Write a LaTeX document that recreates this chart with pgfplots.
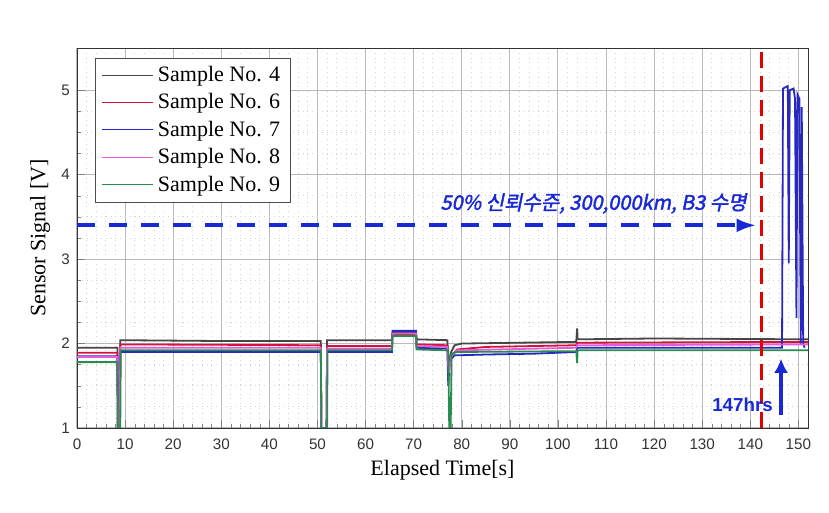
\documentclass[border=0pt]{standalone}
\usepackage{fontspec}
\setmainfont{Liberation Serif}
\setsansfont{Liberation Sans}
\newfontfamily\kr[FakeSlant=0.2,FakeBold=2]{Noto Sans CJK KR}
\usepackage{pgfplots}
\pgfplotsset{compat=1.18}
\usetikzlibrary{arrows.meta}
\definecolor{sfour}{RGB}{70,70,70}
\definecolor{ssix}{RGB}{210,20,60}
\definecolor{sseven}{RGB}{40,40,190}
\definecolor{seight}{RGB}{230,90,220}
\definecolor{snine}{RGB}{40,140,80}
\definecolor{annblue}{RGB}{25,40,215}
\begin{document}
\begin{tikzpicture}
\begin{axis}[
    name=ax, at={(0,0)}, anchor=south west,
    scale only axis, width=365.5pt, height=190pt,
    xmin=0, xmax=152, ymin=1, ymax=5.5,
    xtick={0,10,...,150}, ytick={1,2,3,4,5},
    minor x tick num=4, minor y tick num=3,
    xtick pos=left, ytick pos=left, tick align=inside,
    major tick length=4pt, minor tick length=2pt,
    grid=both,
    major grid style={gray!55, line width=0.5pt},
    minor grid style={gray!35, dotted},
    tick label style={font=\sffamily\fontsize{7.6}{9}\selectfont, text=black!80},
    xticklabel style={yshift=-2pt},
    /pgf/number format/assume math mode=true,
    xlabel={Elapsed Time[s]}, ylabel={Sensor Signal [V]},
    label style={font=\fontsize{11}{13}\selectfont},
    xlabel style={at={(axis description cs:0.5,-0.1105)}, anchor=center},
    ylabel style={at={(axis description cs:-0.0506,0.5)}, anchor=center},
    legend style={at={(axis description cs:0.025,0.975)}, anchor=north west,
      font=\fontsize{11}{13}\selectfont, draw=black!70, row sep=0.6pt, inner xsep=3pt},
    legend cell align=left,
    legend image code/.code={\draw[#1, line width=0.5pt] (0cm,0cm) -- (0.9cm,0cm);},
    axis line style={black!80},
]
\addplot[sfour, line width=0.9pt] coordinates {
 (0,1.95)(8.4,1.95)(8.5,1.0)(8.8,1.0)(9.0,2.04)(30,2.03)(50.7,2.03)(50.8,1.0)(51.9,1.0)(52.0,2.04)
 (65.5,2.04)(65.6,2.13)(70.5,2.13)(70.6,2.05)(77,2.04)(77.3,1.75)(77.8,1.9)(78.5,1.98)(80,2.0)
 (103.8,2.02)(104,2.18)(104.1,2.05)(120,2.06)(152,2.05)};
\addplot[ssix, line width=0.9pt] coordinates {
 (0,1.89)(8.4,1.89)(8.5,1.0)(8.9,1.0)(9.0,1.99)(50.7,1.98)(50.8,1.0)(51.9,1.0)(52,1.97)
 (65.5,1.97)(65.6,2.11)(70.5,2.11)(70.6,1.99)(77,1.98)(77.3,1.7)(77.8,1.85)(79,1.93)(85,1.96)
 (103.8,1.98)(104,2.01)(152,2.02)};
\addplot[sseven, line width=0.9pt] coordinates {
 (0,1.85)(8.4,1.85)(8.5,1.0)(8.9,1.0)(9,1.90)(50.7,1.90)(50.8,1.0)(51.9,1.0)(52,1.90)
 (65.5,1.90)(65.6,2.15)(70.5,2.15)(70.6,1.95)(77,1.94)(77.2,1.5)(77.5,1.8)(78.5,1.86)(85,1.87)
 (95,1.88)(103.8,1.90)(104,1.95)(146.6,1.95)(146.8,5.02)(147.8,5.05)(148.0,2.95)(148.2,5.0)
 (149.0,5.02)(149.3,4.9)(149.6,2.3)(149.8,4.95)(150.2,4.9)(150.5,2.0)(150.7,4.8)(151.0,2.0)(151.3,1.95)};
\addplot[seight, line width=0.9pt] coordinates {
 (0,1.84)(8.4,1.84)(8.5,1.0)(8.9,1.0)(9,1.95)(50.7,1.95)(50.8,1.0)(51.9,1.0)(52,1.94)
 (65.5,1.94)(65.6,2.12)(70.5,2.12)(70.6,1.97)(77,1.96)(77.3,1.65)(77.8,1.85)(79,1.92)
 (103.8,1.95)(104,1.98)(152,1.99)};
\addplot[snine, line width=0.9pt] coordinates {
 (0,1.78)(8.4,1.78)(8.5,1.0)(9.0,1.0)(9.1,1.92)(50.7,1.92)(50.8,1.0)(52.0,1.0)(52.1,1.92)
 (65.5,1.92)(65.6,2.09)(70.5,2.09)(70.6,1.93)(77.2,1.92)(77.4,1.0)(77.7,1.0)(77.9,1.88)(79,1.9)
 (103.8,1.91)(104,1.77)(104.1,1.92)(152,1.92)};
\legend{Sample No. 4, Sample No. 6, Sample No. 7, Sample No. 8, Sample No. 9}
% annotations
\addplot[forget plot, red!90!black, line width=1.6pt, dash pattern=on 8pt off 4pt] coordinates {(142.3,1)(142.3,5.5)};
\addplot[forget plot, annblue, line width=2pt, dash pattern=on 9pt off 7pt,
  -{Latex[length=10pt,width=7pt]}] coordinates {(0,3.4)(141.3,3.4)};
\addplot[forget plot, annblue, line width=1.6pt, -{Latex[length=7pt,width=7pt]}] coordinates {(146.4,1.15)(146.4,1.82)};
\node[anchor=east, text=annblue, font=\kr\fontsize{10}{12}\selectfont] at (axis cs:140.7,3.66) {50\% 신뢰수준, 300,000km, B3 수명};
\node[text=annblue, font=\sffamily\bfseries\fontsize{9.4}{11}\selectfont] at (axis cs:138.4,1.27) {147hrs};
\end{axis}
\pgfresetboundingbox
\path[use as bounding box] (-38.5pt,-42.5pt) rectangle (376pt,214pt);
\end{tikzpicture}
\end{document}
